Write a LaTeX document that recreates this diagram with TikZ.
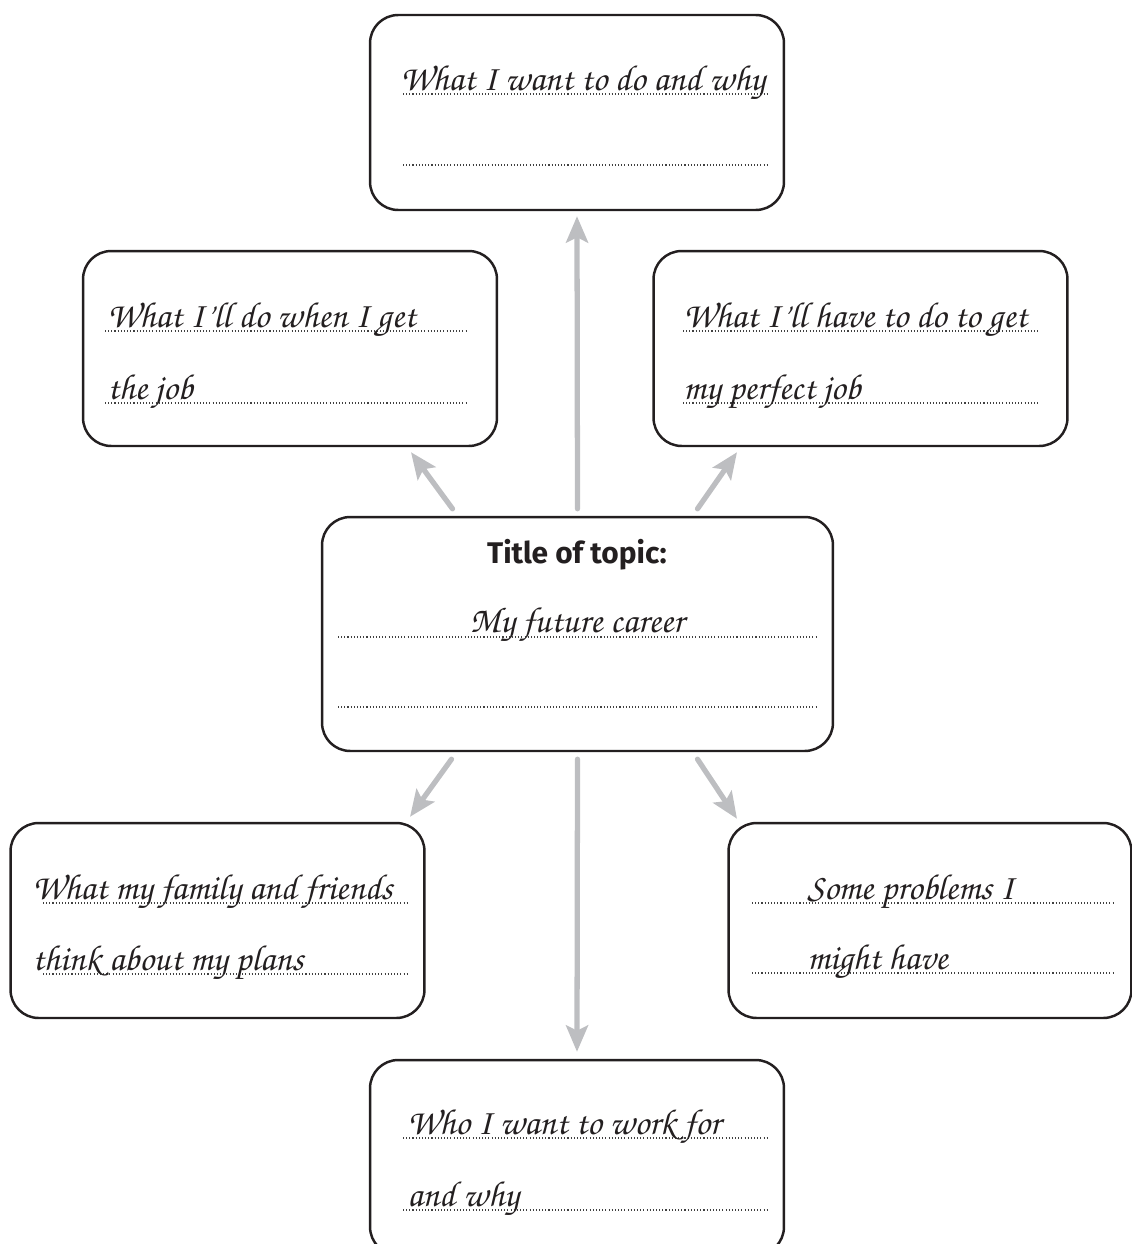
\documentclass[tikz,border=0pt]{standalone}
\usepackage[T1,TU]{fontenc}
\usepackage{fontspec}
\usetikzlibrary{calc,arrows.meta}

\newfontfamily\headfont{Fira Sans}
\newcommand{\handfont}{\fontencoding{T1}\fontfamily{pzc}\fontseries{mb}\fontshape{it}\fontsize{20.6}{24}\selectfont}
\definecolor{arrowgrey}{RGB}{189,190,193}
\definecolor{ink}{RGB}{35,31,32}

\tikzstyle{card} = [draw=ink, line width=1.4pt, rounded corners=16pt, minimum width=8.28cm, minimum height=3.9cm]
\tikzstyle{hand} = [anchor=base west, inner sep=0pt, text=ink, font=\handfont]
\tikzstyle{dotrule} = [line width=0.7pt, dash pattern=on 0.6pt off 1.2pt, black!75]
\tikzstyle{link} = [line width=3pt, line cap=round, arrowgrey, -{Stealth[length=15pt, width=12.5pt, inset=3pt]}]

\begin{document}
\begin{tikzpicture}[x=0.02cm, y=-0.02cm]
\useasboundingbox (0,0) rectangle (1132,1244);

% the seven cards
\node[card] (want) at (577,112.5) {};
\node[card] (onjob) at (290,348.5) {};
\node[card] (getjob) at (860.5,348.5) {};
\node[card, minimum width=10.22cm, minimum height=4.68cm] (topic) at (577.5,634) {};
\node[card] (family) at (217.5,920.5) {};
\node[card, minimum width=8.06cm] (problems) at (930,920.5) {};
\node[card] (employer) at (577,1157.5) {};

% arrows out of the topic
\draw[link] ($(topic.north)+(0,-7)$) -- ($(want.south)+(0,5)$);
\draw[link] ($(topic.north)+(-125,-7)$) -- ($(onjob.south)+(121,5)$);
\draw[link] ($(topic.north)+(120,-7)$) -- ($(getjob.south)+(-123.5,5)$);
\draw[link] ($(topic.south)+(-126,7)$) -- ($(family.north)+(192.5,-5)$);
\draw[link] ($(topic.south)+(0,7)$) -- ($(employer.north)+(0,-7)$);
\draw[link] ($(topic.south)+(120,7)$) -- ($(problems.north)+(-193,-3)$);

% writing lines
\draw[dotrule] (403,94) -- (767,94) (403,165) -- (767,165);
\draw[dotrule] (105,331) -- (468,331) (105,403) -- (468,403);
\draw[dotrule] (683,331) -- (1038,331) (683,403) -- (1038,403);
\draw[dotrule] (338,637) -- (817,637) (338,707) -- (817,707);
\draw[dotrule] (43,903) -- (407,903) (43,974) -- (407,974);
\draw[dotrule] (752,903) -- (1115,903) (752,973) -- (1115,973);
\draw[dotrule] (403,1138) -- (767,1138) (403,1210) -- (767,1210);

% texts
\node[hand] (want1) at (400,90) {What I want to do and why};
\node[hand] (onjob1) at (107,327) {What I'll do when I get};
\node[hand] (onjob2) at (107,399) {the job};
\node[hand] (getjob1) at (683,327) {What I'll have to do to get};
\node[hand] (getjob2) at (683,399) {my perfect job};
\node[anchor=base, inner sep=0pt, text=ink, font=\headfont\bfseries\fontsize{17}{20}\selectfont] (title) at (577,563) {Title of topic:};
\node[hand, anchor=base] (topic1) at (577,632) {My future career};
\node[hand] (family1) at (32,899) {What my family and friends};
\node[hand] (family2) at (32,970) {think about my plans};
\node[hand] (problems1) at (807,899) {Some problems I};
\node[hand] (problems2) at (807,969) {might have};
\node[hand] (employer1) at (407,1134) {Who I want to work for};
\node[hand] (employer2) at (407,1206) {and why};
\end{tikzpicture}
\end{document}
